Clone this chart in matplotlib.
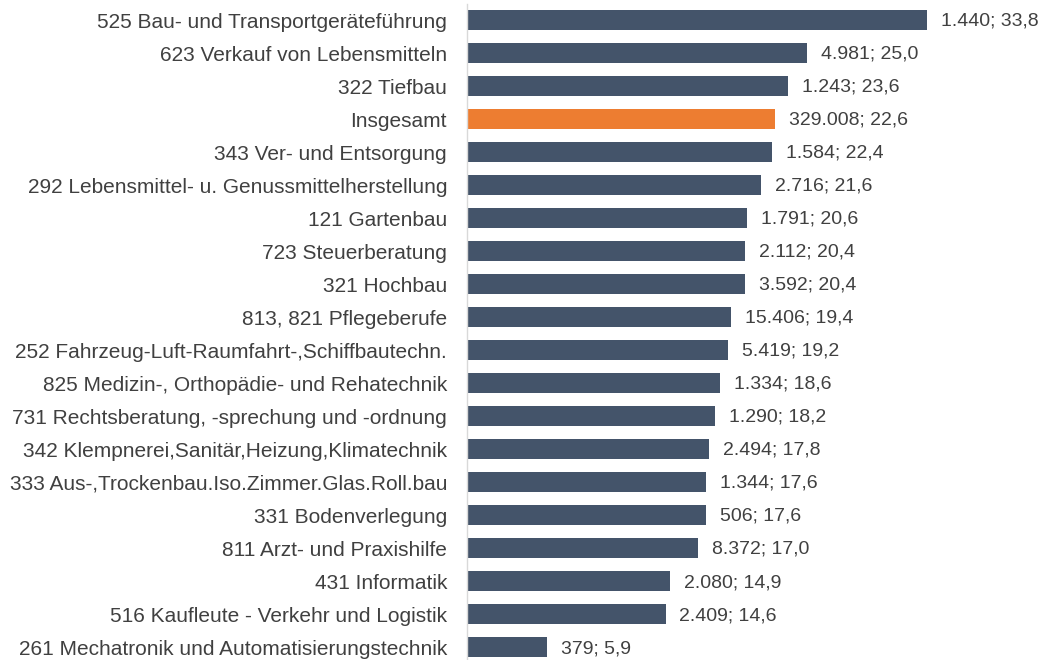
import matplotlib
matplotlib.use("Agg")
import matplotlib.pyplot as plt

# Berufe (top to bottom), Anzahl und Anteil in %
labels = [
    "525 Bau- und Transportgeräteführung",
    "623 Verkauf von Lebensmitteln",
    "322 Tiefbau",
    "Insgesamt",
    "343 Ver- und Entsorgung",
    "292 Lebensmittel- u. Genussmittelherstellung",
    "121 Gartenbau",
    "723 Steuerberatung",
    "321 Hochbau",
    "813, 821 Pflegeberufe",
    "252 Fahrzeug-Luft-Raumfahrt-,Schiffbautechn.",
    "825 Medizin-, Orthopädie- und Rehatechnik",
    "731 Rechtsberatung, -sprechung und -ordnung",
    "342 Klempnerei,Sanitär,Heizung,Klimatechnik",
    "333 Aus-,Trockenbau.Iso.Zimmer.Glas.Roll.bau",
    "331 Bodenverlegung",
    "811 Arzt- und Praxishilfe",
    "431 Informatik",
    "516 Kaufleute - Verkehr und Logistik",
    "261 Mechatronik und Automatisierungstechnik",
]
counts = ["1.440", "4.981", "1.243", "329.008", "1.584", "2.716", "1.791", "2.112",
          "3.592", "15.406", "5.419", "1.334", "1.290", "2.494", "1.344", "506",
          "8.372", "2.080", "2.409", "379"]
shares = [33.8, 25.0, 23.6, 22.6, 22.4, 21.6, 20.6, 20.4, 20.4, 19.4, 19.2,
          18.6, 18.2, 17.8, 17.6, 17.6, 17.0, 14.9, 14.6, 5.9]

plt.rcParams['font.family'] = ['Liberation Sans', 'DejaVu Sans']
text_col = '#404040'
blue = '#44546A'
orange = '#ED7D31'

fig = plt.figure(figsize=(10.46, 6.6), dpi=100)
ax = fig.add_axes([466.5 / 1046, 0, 1 - 466.5 / 1046, 656 / 660])

colors = [orange if l == "Insgesamt" else blue for l in labels]
ypos = list(range(len(labels)))
ax.barh(ypos, shares, height=0.6, color=colors)

# data labels: "Anzahl; Anteil" with German decimal comma
for y, v, c in zip(ypos, shares, counts):
    txt = c + "; " + f"{v:.1f}".replace(".", ",")
    ax.annotate(txt, xy=(v, y), xytext=(10, -1), textcoords='offset points',
                va='center', ha='left', fontsize=14, color=text_col)

ax.set_yticks(ypos)
ax.set_yticklabels(labels, fontsize=15, color=text_col)
ax.tick_params(axis='y', length=0, pad=14)
ax.set_xticks([])
ax.set_xlim(0, 42.5)
ax.set_ylim(19.39, -0.485)
for s in ['top', 'right', 'bottom']:
    ax.spines[s].set_visible(False)
ax.spines['left'].set_color('#D9D9D9')
ax.spines['left'].set_linewidth(1)

fig.savefig("out.png", dpi=100)
